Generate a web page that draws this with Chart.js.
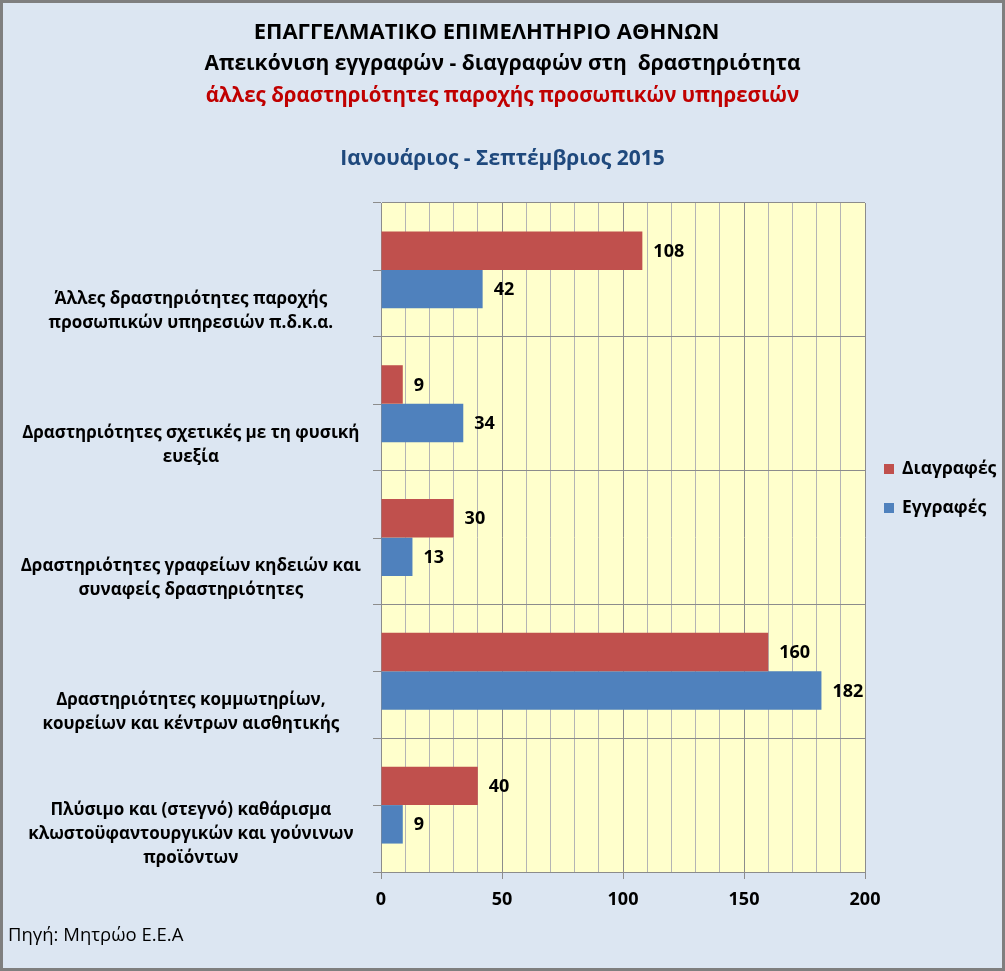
<!DOCTYPE html>
<html>
<head>
<meta charset="utf-8">
<script src="https://cdn.jsdelivr.net/npm/chart.js@4.4.1/dist/chart.umd.min.js"></script>
<style>
  body { margin: 0; }
  #frame {
    position: relative;
    width: 1005px;
    height: 971px;
    background: #dce6f2;
    box-shadow: inset 0 0 0 3px #7f7f7f;
    font-family: "Open Sans", sans-serif;
    overflow: hidden;
  }
  #chart { position: absolute; left: 0; top: 0; }
  .title {
    position: absolute;
    left: 0;
    width: 1005px;
    text-align: center;
    font-weight: bold;
    line-height: 28px;
    white-space: pre;
  }
  .legend-item {
    position: absolute;
    left: 884px;
    font-size: 17.5px;
    font-weight: bold;
    line-height: 24px;
    color: #000;
  }
  .legend-item span {
    display: inline-block;
    width: 10px;
    height: 10px;
    margin-right: 8px;
    vertical-align: 0px;
  }
  #source {
    position: absolute;
    left: 8px;
    top: 921px;
    font-size: 18.5px;
    color: #000;
  }
</style>
</head>
<body>
<div id="frame">
  <canvas id="chart" width="1005" height="971"></canvas>
  <div class="title" style="top:16px;left:-16px;font-size:22px;color:#000">ΕΠΑΓΓΕΛΜΑΤΙΚΟ ΕΠΙΜΕΛΗΤΗΡΙΟ ΑΘΗΝΩΝ</div>
  <div class="title" style="top:48px;font-size:21px;color:#000">Απεικόνιση εγγραφών - διαγραφών στη  δραστηριότητα</div>
  <div class="title" style="top:80px;font-size:20.5px;color:#c00000">άλλες δραστηριότητες παροχής προσωπικών υπηρεσιών</div>
  <div class="title" style="top:143px;font-size:21px;color:#1f497d">Ιανουάριος - Σεπτέμβριος 2015</div>
  <div id="legend"></div>
  <div id="source">Πηγή: Μητρώο Ε.Ε.Α</div>
</div>

<script>
const categories = [
  ['Άλλες δραστηριότητες παροχής', 'προσωπικών υπηρεσιών π.δ.κ.α.'],
  ['Δραστηριότητες σχετικές με τη φυσική', 'ευεξία'],
  ['Δραστηριότητες γραφείων κηδειών και', 'συναφείς δραστηριότητες'],
  ['Δραστηριότητες κομμωτηρίων,', 'κουρείων και κέντρων αισθητικής'],
  ['Πλύσιμο και (στεγνό) καθάρισμα', 'κλωστοϋφαντουργικών και γούνινων', 'προϊόντων']
];
const seriesNames = ['Διαγραφές', 'Εγγραφές'];
const deletions = [108, 9, 30, 160, 40];
const registrations = [42, 34, 13, 182, 9];
const seriesColors = ['#c0504d', '#4f81bd'];
const xTicks = [0, 50, 100, 150, 200];

// labels are bottom-aligned in the original, so pad short ones at the top
const yLabels = categories.map(lines => {
  const out = lines.slice();
  while (out.length < 3) out.unshift('');
  return out;
});

const plotBackground = {
  id: 'plotBackground',
  beforeDraw(chart) {
    const { ctx, chartArea: a } = chart;
    ctx.save();
    ctx.fillStyle = '#ffffcc';
    ctx.fillRect(a.left, a.top, a.right - a.left, a.bottom - a.top);
    ctx.restore();
  }
};

// small tick marks at the category centres too
const centreTicks = {
  id: 'centreTicks',
  afterDraw(chart) {
    const { ctx, scales: { y } } = chart;
    ctx.save();
    ctx.strokeStyle = '#8c8c8c';
    ctx.lineWidth = 1;
    categories.forEach((c, i) => {
      const py = Math.round(y.getPixelForValue(i)) + 0.5;
      ctx.beginPath();
      ctx.moveTo(y.right - 8, py);
      ctx.lineTo(y.right, py);
      ctx.stroke();
    });
    ctx.restore();
  }
};

const valueLabels = {
  id: 'valueLabels',
  afterDatasetsDraw(chart) {
    const ctx = chart.ctx;
    ctx.save();
    ctx.font = 'bold 18px "Open Sans", sans-serif';
    ctx.fillStyle = '#000';
    ctx.textBaseline = 'middle';
    ctx.textAlign = 'left';
    chart.data.datasets.forEach((ds, di) => {
      chart.getDatasetMeta(di).data.forEach((bar, i) => {
        ctx.fillText(ds.data[i], bar.x + 11, bar.y + 1);
      });
    });
    ctx.restore();
  }
};

const chart = new Chart(document.getElementById('chart'), {
  type: 'bar',
  data: {
    labels: yLabels,
    datasets: [
      { label: seriesNames[0], data: deletions, backgroundColor: seriesColors[0] },
      { label: seriesNames[1], data: registrations, backgroundColor: seriesColors[1] }
    ]
  },
  options: {
    indexAxis: 'y',
    responsive: false,
    animation: false,
    events: [],
    datasets: { bar: { categoryPercentage: 0.575, barPercentage: 1 } },
    layout: { padding: { top: 203, right: 140, bottom: 39, left: 0 } },
    plugins: {
      legend: { display: false },
      title: { display: false },
      tooltip: { enabled: false }
    },
    scales: {
      x: {
        min: 0,
        max: 200,
        ticks: {
          stepSize: 10,
          autoSkip: false,
          maxRotation: 0,
          padding: 10,
          color: '#000',
          font: { family: '"Open Sans", sans-serif', size: 18, weight: 'bold' },
          callback: v => xTicks.includes(v) ? v : ''
        },
        grid: {
          color: c => xTicks.includes(c.tick.value) ? '#8c8c8c' : '#b4b4b4',
          tickColor: c => xTicks.includes(c.tick.value) ? '#8c8c8c' : 'rgba(0,0,0,0)',
          tickLength: 7
        },
        border: { color: '#8c8c8c' },
        afterFit: s => { s.height = 60; }
      },
      y: {
        ticks: {
          crossAlign: 'center',
          padding: 12,
          labelOffset: 29,
          color: '#000',
          font: { family: '"Open Sans", sans-serif', size: 17, weight: 'bold', lineHeight: 1.41 }
        },
        grid: { color: '#8c8c8c', tickColor: '#8c8c8c', tickLength: 8, offset: true },
        border: { color: '#8c8c8c' },
        afterFit: s => { s.width = 381; }
      }
    }
  },
  plugins: [plotBackground, centreTicks, valueLabels]
});

// legend, centred on the whole chart like the original
const legend = document.getElementById('legend');
const legendTops = [455, 494];
seriesNames.forEach((name, i) => {
  const item = document.createElement('div');
  item.className = 'legend-item';
  item.style.top = legendTops[i] + 'px';
  item.innerHTML = '<span style="background:' + seriesColors[i] + '"></span>' + name;
  legend.appendChild(item);
});
</script>
</body>
</html>
